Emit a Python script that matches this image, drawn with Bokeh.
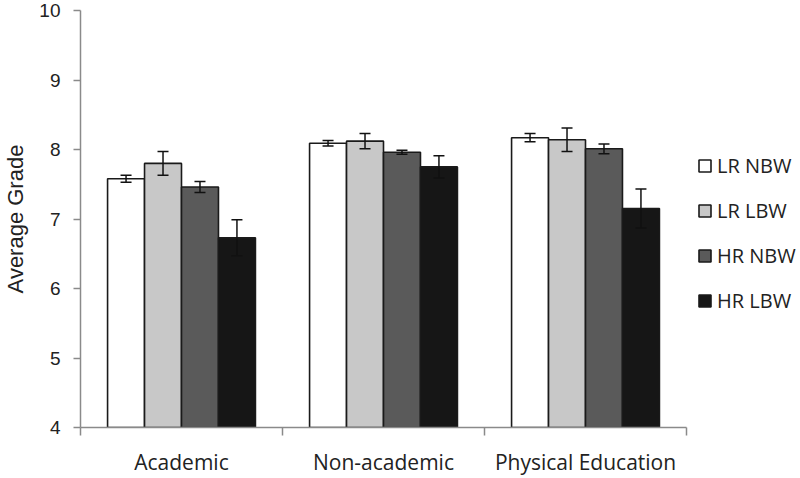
from bokeh.plotting import figure
from bokeh.models import (ColumnDataSource, Range1d, FixedTicker, Whisker, TeeHead,
                          Legend, LegendItem)
from bokeh.embed import file_html
from bokeh.resources import INLINE

categories = ["Academic", "Non-academic", "Physical Education"]
series = ["LR NBW", "LR LBW", "HR NBW", "HR LBW"]
lr_nbw = [7.58, 8.09, 8.17]
lr_nbw_err = [0.05, 0.04, 0.06]
lr_lbw = [7.80, 8.12, 8.14]
lr_lbw_err = [0.17, 0.11, 0.17]
hr_nbw = [7.46, 7.96, 8.01]
hr_nbw_err = [0.08, 0.03, 0.07]
hr_lbw = [6.73, 7.75, 7.15]
hr_lbw_err = [0.26, 0.16, 0.28]
y_ticks = [4, 5, 6, 7, 8, 9, 10]

values = [lr_nbw, lr_lbw, hr_nbw, hr_lbw]
errors = [lr_nbw_err, lr_lbw_err, hr_nbw_err, hr_lbw_err]
colors = ["#ffffff", "#c8c8c8", "#5a5a5a", "#161616"]

bar_w = 0.183
n_cat = len(categories)

# frame spans 80..796 px; the category axis occupies 606 px of it, legend sits in the rest
p = figure(width=800, height=478, output_backend="svg", toolbar_location=None,
           x_range=Range1d(0, n_cat * 716 / 606), y_range=Range1d(4, 10),
           min_border_left=80, min_border_right=4, min_border_top=10, min_border_bottom=46)
p.outline_line_color = None
p.xgrid.visible = False
p.ygrid.visible = False

renderers = []
for j, (vals, errs, col) in enumerate(zip(values, errors, colors)):
    xs = [i + 0.5 + (j - 1.5) * bar_w for i in range(n_cat)]
    src = ColumnDataSource(dict(x=xs, top=vals,
                                lo=[v - e for v, e in zip(vals, errs)],
                                hi=[v + e for v, e in zip(vals, errs)]))
    r = p.vbar(x="x", top="top", bottom=4, width=bar_w, source=src,
               fill_color=col, line_color="#1a1a1a", line_width=1.6)
    renderers.append(r)
    w = Whisker(base="x", lower="lo", upper="hi", source=src, level="overlay",
                line_color="#111111", line_width=1.5,
                upper_head=TeeHead(size=11, line_color="#111111", line_width=1.5),
                lower_head=TeeHead(size=11, line_color="#111111", line_width=1.5))
    p.add_layout(w)

# y axis
ya = p.yaxis[0]
ya.ticker = FixedTicker(ticks=y_ticks)
ya.axis_line_color = "#8a8a8a"
ya.axis_line_width = 1.5
ya.major_tick_line_color = "#8a8a8a"
ya.major_tick_line_width = 1.5
ya.major_tick_out = 7
ya.major_tick_in = 0
ya.minor_tick_line_color = None
ya.major_label_text_font = "Liberation Sans"
ya.major_label_text_font_size = "19px"
ya.major_label_text_color = "#222222"
ya.major_label_standoff = 13
ya.axis_label = "Average Grade"
ya.axis_label_text_font = "Liberation Sans"
ya.axis_label_text_font_size = "22px"
ya.axis_label_text_font_style = "normal"
ya.axis_label_text_color = "#222222"
ya.axis_label_standoff = 8

# x axis
xa = p.xaxis[0]
centers = [i + 0.5 for i in range(n_cat)]
xa.bounds = (0, n_cat)
xa.ticker = FixedTicker(ticks=centers, minor_ticks=[i for i in range(n_cat + 1)])
xa.major_label_overrides = {c: name for c, name in zip(centers, categories)}
xa.axis_line_color = "#8a8a8a"
xa.axis_line_width = 1.5
xa.major_tick_line_color = None
xa.major_tick_out = 0
xa.major_tick_in = 0
xa.minor_tick_line_color = "#8a8a8a"
xa.minor_tick_line_width = 1.5
xa.minor_tick_out = 8
xa.minor_tick_in = 0
xa.major_label_text_font = "Open Sans"
xa.major_label_text_font_size = "21px"
xa.major_label_text_color = "#222222"
xa.major_label_standoff = 12

legend = Legend(items=[LegendItem(label=s, renderers=[r]) for s, r in zip(series, renderers)],
                location=(617, 113), orientation="vertical",
                padding=0, margin=0, spacing=18,
                glyph_width=15, glyph_height=15, label_standoff=5,
                label_height=20,
                label_text_font="Open Sans", label_text_font_size="20px",
                label_text_color="#222222",
                border_line_alpha=0, background_fill_alpha=0)
p.add_layout(legend, "center")

open("out.html", "w").write(file_html(p, INLINE))
